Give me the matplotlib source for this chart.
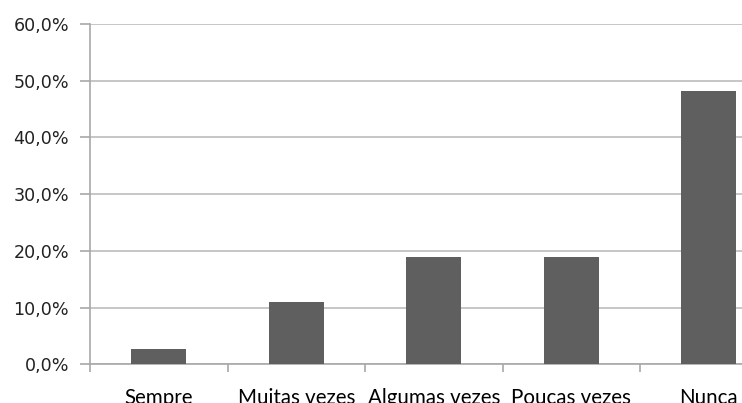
import matplotlib.pyplot as plt
from matplotlib.ticker import FuncFormatter, MultipleLocator
import numpy as np

categories = ["Sempre", "Muitas vezes", "Algumas vezes", "Poucas vezes", "Nunca"]
percentages = [2.7, 10.9, 19.0, 19.0, 48.1]


def pct_label(v, pos):
    return f"{v:.1f}%".replace(".", ",")


def main():
    fig = plt.figure(figsize=(7.42, 4.03), dpi=100)
    ax = fig.add_axes([90 / 742, 38.7 / 403, 687.5 / 742, 340.3 / 403])

    x = np.arange(len(categories))
    ax.bar(x, percentages, width=0.4, color="#5f5f5f", zorder=3)

    ax.set_xlim(-0.5, len(categories) - 0.5)
    ax.set_ylim(0, 60)
    ax.yaxis.set_major_locator(MultipleLocator(10))
    ax.yaxis.set_major_formatter(FuncFormatter(pct_label))
    ax.grid(axis="y", color="#bcbcbc", linewidth=1.2, zorder=0)

    ax.set_xticks(x)
    ax.set_xticklabels(categories, family="Lato", fontsize=14.8)
    ax.set_xticks(np.arange(len(categories) + 1) - 0.5, minor=True)
    ax.tick_params(axis="x", which="major", length=0, pad=17)
    ax.tick_params(axis="x", which="minor", length=6, color="#a8a8a8", width=1.2)
    ax.tick_params(axis="y", length=7, color="#a8a8a8", width=1.2,
                   labelsize=12.6, pad=8, labelcolor="#222222")

    for side in ["top", "right"]:
        ax.spines[side].set_visible(False)
    for side in ["left", "bottom"]:
        ax.spines[side].set_color("#a8a8a8")
        ax.spines[side].set_linewidth(1.2)

    fig.savefig("out.png", dpi=100)


if __name__ == "__main__":
    main()
